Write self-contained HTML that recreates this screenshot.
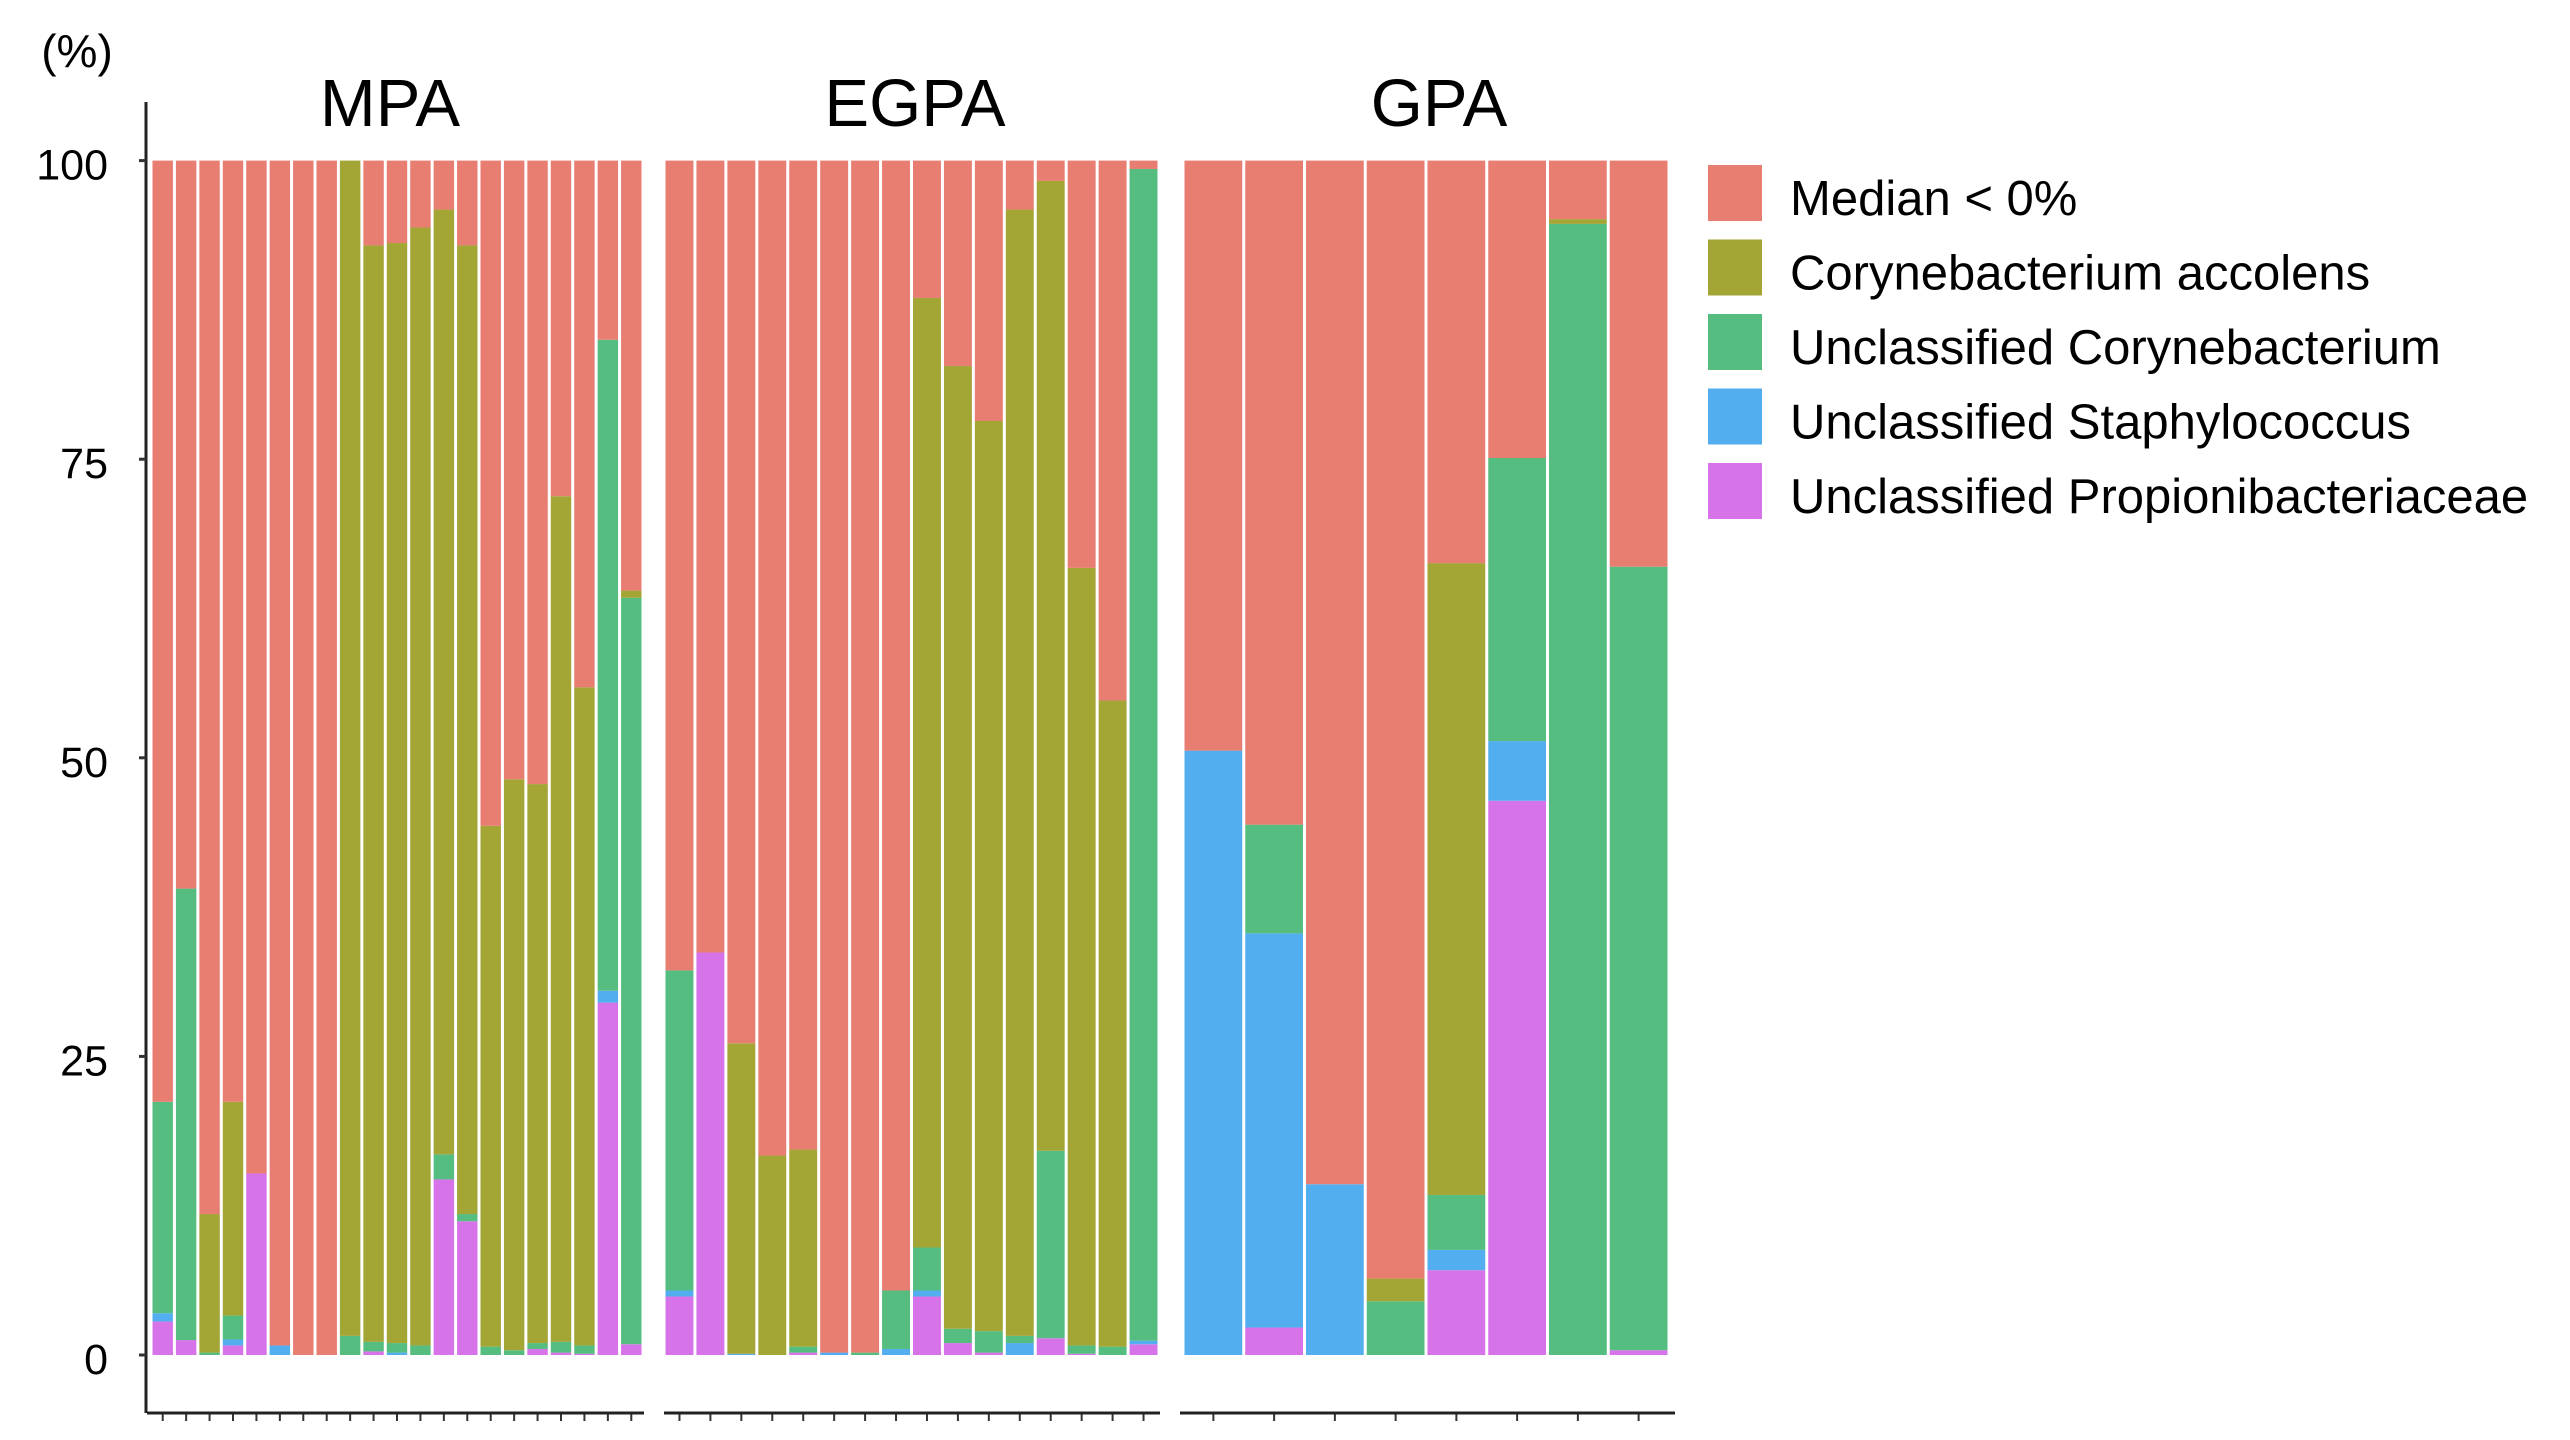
<!DOCTYPE html>
<html><head><meta charset="utf-8"><style>
html,body{margin:0;padding:0;background:#fff;}
svg{display:block;font-family:"Liberation Sans",Arial,sans-serif;}
</style></head><body>
<svg id="chart" width="2570" height="1440" viewBox="0 0 2570 1440" xmlns="http://www.w3.org/2000/svg">
<text x="77" y="67" font-size="46" text-anchor="middle">(%)</text>
<g id="plot"></g>
<g id="legend"></g>
</svg>
<script>
// ---- data ----
const seriesNames = ["Unclassified Propionibacteriaceae","Unclassified Staphylococcus","Unclassified Corynebacterium","Corynebacterium accolens","Median < 0%"];
const seriesColors = ["#D773E8","#53AEEF","#56BD81","#A3A535","#E87D72"];
const legendOrder = [4,3,2,1,0];
const panelNames = ["MPA","EGPA","GPA"];
const yTicks = [0,25,50,75,100];
// MPA (21 samples)
const mpaPropioni = [2.8,1.25,0,0.8,15.2,0,0,0,0,0.3,0,0,14.7,11.2,0,0,0.5,0.2,0.1,29.5,0.9];
const mpaStaph    = [0.7,0,0,0.5,0,0.8,0,0,0,0,0.2,0,0,0,0,0,0,0,0,1.0,0];
const mpaCoryUn   = [17.7,37.8,0.2,2.0,0,0,0,0,1.6,0.8,0.8,0.8,2.1,0.6,0.7,0.4,0.5,0.9,0.7,54.5,62.5];
const mpaAccolens = [0,0,11.6,17.9,0,0,0,0,98.4,91.8,92.1,93.6,79.1,81.1,43.6,47.8,46.8,70.8,55.1,0,0.6];
// EGPA (16 samples)
const egpaPropioni = [4.9,33.7,0,0,0.2,0,0,0,4.9,1.0,0.2,0,1.4,0.1,0,0.9];
const egpaStaph    = [0.5,0,0.1,0,0,0.2,0,0.5,0.5,0,0,1.0,0,0,0,0.3];
const egpaCoryUn   = [26.8,0,0,0,0.5,0,0.2,4.9,3.6,1.2,1.8,0.6,15.7,0.7,0.7,98.1];
const egpaAccolens = [0,0,26.0,16.7,16.5,0,0,0,79.5,80.6,76.2,94.3,81.2,65.1,54.1,0];
// GPA (8 samples)
const gpaPropioni = [0,2.3,0,0,7.1,46.4,0,0.4];
const gpaStaph    = [50.6,33.0,14.3,0,1.7,5.0,0,0];
const gpaCoryUn   = [0,9.1,0,4.5,4.6,23.7,94.7,65.6];
const gpaAccolens = [0,0,0,1.9,52.9,0,0.4,0];

const panelData = [
  [mpaPropioni,mpaStaph,mpaCoryUn,mpaAccolens],
  [egpaPropioni,egpaStaph,egpaCoryUn,egpaAccolens],
  [gpaPropioni,gpaStaph,gpaCoryUn,gpaAccolens]
];

// ---- layout ----
const NS="http://www.w3.org/2000/svg";
const plot=document.getElementById('plot');
const legend=document.getElementById('legend');
const panelX=[[151,643],[664,1159],[1183,1669]];
const axisX=[[147,644],[664,1160],[1180,1675]];
const titleX=[390,915,1439];
const Y0=1355, Y100=160.6;
function y(v){return Y0-(v/100)*(Y0-Y100);}
function mk(tag,attrs,parent){const e=document.createElementNS(NS,tag);for(const k in attrs)e.setAttribute(k,attrs[k]);parent.appendChild(e);return e;}

// y axis
const yAxis=mk('line',{x1:146,y1:102,x2:146,y2:1413,stroke:'#222','stroke-width':3},plot);


yTicks.forEach(t=>{
  const tk=mk('line',{x1:139,y1:y(t),x2:146,y2:y(t),stroke:'#333','stroke-width':3},plot);
  
  
  const lb=mk('text',{x:108,y:y(t)+19,'font-size':43,'text-anchor':'end'},plot);
  lb.textContent=t;
  
  
});

panelData.forEach((arrs,p)=>{
  const n=arrs[0].length;
  const [x0,x1]=panelX[p];
  const pitch=(x1-x0)/n;
  const g=mk('g',{},plot);
  
  
  const title=mk('text',{x:titleX[p],y:126,'font-size':67,'text-anchor':'middle'},g);
  title.textContent=panelNames[p];
  
  
  for(let i=0;i<n;i++){
    const bx=x0+i*pitch+1.5, bw=pitch-3;
    let cum=0;
    for(let s=0;s<5;s++){
      const v = s<4 ? arrs[s][i] : Math.max(0,100-cum);
      if(v<=0){continue;}
      const r=mk('rect',{x:bx,y:y(cum+v),width:bw,height:y(cum)-y(cum+v),fill:seriesColors[s]},g);
      
      
      cum+=v;
    }
    const tk=mk('line',{x1:x0+(i+0.5)*pitch,y1:1413,x2:x0+(i+0.5)*pitch,y2:1421,stroke:'#333','stroke-width':2},g);
    
    
  }
  const ax=mk('line',{x1:axisX[p][0],y1:1413,x2:axisX[p][1],y2:1413,stroke:'#222','stroke-width':3},g);
  
  
});

legendOrder.forEach((s,k)=>{
  const top=165+k*74.5;
  const sw=mk('rect',{x:1708,y:top,width:54,height:56,fill:seriesColors[s]},legend);
  
  
  const t=mk('text',{x:1790,y:top+50,'font-size':49},legend);
  t.textContent=seriesNames[s];
  
  
});
</script>
</body></html>
